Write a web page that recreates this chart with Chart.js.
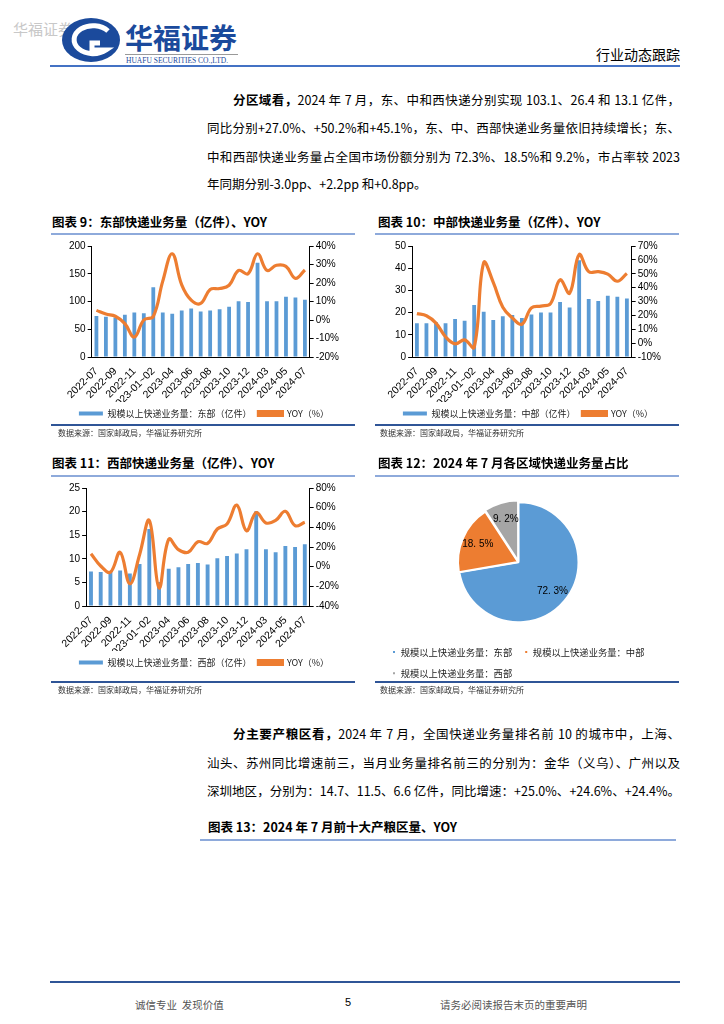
<!DOCTYPE html>
<html>
<head>
<meta charset="utf-8">
<script src="https://cdn.jsdelivr.net/npm/chart.js@4.4.1/dist/chart.umd.min.js"></script>
<style>
  body { margin: 0; width: 724px; height: 1024px; position: relative; background: #fff; font-family: "Noto Sans CJK SC", sans-serif; color: #000; overflow: hidden; }
  .abs { position: absolute; }
  .txt { position: absolute; left: 207px; width: 473px; font-size: 12.5px; line-height: 16px; height: 16px; text-align: justify; text-align-last: justify; }
  .txt.last { text-align-last: left; }
  .ttl { position: absolute; font-size: 12.5px; font-weight: bold; line-height: 16px; }
  .uline { position: absolute; height: 2px; background: #8eaadb; }
  .bline { position: absolute; height: 1.5px; background: #2f5597; }
  .src { position: absolute; font-size: 8px; color: #333; line-height: 10px; }
  .box { position: absolute; }
</style>
</head>
<body>

<div class="abs" style="left:13px;top:18px;font-size:15px;color:#c8c8c8;">华福证券</div>
<svg class="abs" style="left:55px;top:12px" width="200" height="56">
  <ellipse cx="36" cy="28" rx="29" ry="22" fill="#1b4a9c"/>
  <path d="M53 19 A19 14 0 1 0 51 38 L37 38 L37 31 L45 31" fill="none" stroke="#fff" stroke-width="5"/>
  <text x="70" y="37" font-size="28" font-weight="bold" fill="#1b4a9c" font-family="Noto Sans CJK SC">华福证券</text>
  <rect x="70" y="42" width="113" height="1" fill="#999"/>
  <text x="71" y="51" font-size="7.5" fill="#1b4a9c" font-family="Liberation Serif">HUAFU SECURITIES CO.,LTD.</text>
</svg>
<div class="abs" style="right:44px;top:44px;font-size:14px;">行业动态跟踪</div>
<div class="abs" style="left:50px;top:65px;width:630px;height:2px;background:#4472c4;"></div>

<div class="txt" style="top:92px;left:233px;width:447px;"><b>分区域看，</b>2024 年 7 月，东、中和西快递分别实现 103.1、26.4 和 13.1 亿件，</div>
<div class="txt" style="top:120px;">同比分别+27.0%、+50.2%和+45.1%，东、中、西部快递业务量依旧持续增长；东、</div>
<div class="txt" style="top:149px;">中和西部快递业务量占全国市场份额分别为 72.3%、18.5%和 9.2%，市占率较 2023</div>
<div class="txt last" style="top:176px;">年同期分别-3.0pp、+2.2pp 和+0.8pp。</div>

<div class="ttl" style="left:52px;top:214px;">图表 9：东部快递业务量（亿件）、YOY</div>
<div class="ttl" style="left:378px;top:214px;">图表 10：中部快递业务量（亿件）、YOY</div>
<div class="uline" style="left:51px;top:233px;width:304px;"></div>
<div class="uline" style="left:375px;top:233px;width:304px;"></div>
<div class="box" style="left:51px;top:238px;width:304px;height:190px;"><canvas id="c1"></canvas></div>
<div class="box" style="left:375px;top:238px;width:304px;height:190px;"><canvas id="c2"></canvas></div>
<div class="bline" style="left:51px;top:424px;width:304px;"></div>
<div class="bline" style="left:375px;top:424px;width:304px;"></div>
<div class="src" style="left:58px;top:428px;">数据来源：国家邮政局，华福证券研究所</div>
<div class="src" style="left:380px;top:428px;">数据来源：国家邮政局，华福证券研究所</div>

<div class="ttl" style="left:52px;top:455px;">图表 11：西部快递业务量（亿件）、YOY</div>
<div class="ttl" style="left:378px;top:455px;">图表 12：2024 年 7 月各区域快递业务量占比</div>
<div class="uline" style="left:51px;top:475px;width:304px;"></div>
<div class="uline" style="left:375px;top:475px;width:304px;"></div>
<div class="box" style="left:51px;top:480px;width:304px;height:197px;"><canvas id="c3"></canvas></div>
<div class="box" style="left:375px;top:480px;width:304px;height:208px;"><canvas id="c4"></canvas></div>
<div class="bline" style="left:51px;top:681px;width:304px;"></div>
<div class="bline" style="left:375px;top:681px;width:304px;"></div>
<div class="src" style="left:58px;top:685px;">数据来源：国家邮政局，华福证券研究所</div>
<div class="src" style="left:380px;top:685px;">数据来源：国家邮政局，华福证券研究所</div>

<div class="txt" style="top:726px;left:233px;width:447px;"><b>分主要产粮区看，</b>2024 年 7 月，全国快递业务量排名前 10 的城市中，上海、</div>
<div class="txt" style="top:755px;">汕头、苏州同比增速前三，当月业务量排名前三的分别为：金华（义乌）、广州以及</div>
<div class="txt" style="top:783px;">深圳地区，分别为：14.7、11.5、6.6 亿件，同比增速：+25.0%、+24.6%、+24.4%。</div>
<div class="ttl" style="left:208px;top:819px;">图表 13：2024 年 7 月前十大产粮区量、YOY</div>
<div class="uline" style="left:200px;top:839px;width:476px;"></div>

<div class="abs" style="left:50px;top:981px;width:630px;height:2px;background:#2f5597;"></div>
<div class="abs" style="left:135px;top:997px;font-size:10.5px;color:#555;">诚信专业&nbsp;&nbsp;发现价值</div>
<div class="abs" style="left:345px;top:996px;font-size:11px;font-family:'Liberation Sans';">5</div>
<div class="abs" style="left:440px;top:997px;font-size:10.5px;color:#555;">请务必阅读报告末页的重要声明</div>

<script>
const months = ['2022-07', '2022-08', '2022-09', '2022-10', '2022-11', '2022-12', '2023-01~02', '2023-03', '2023-04', '2023-05', '2023-06', '2023-07', '2023-08', '2023-09', '2023-10', '2023-11', '2023-12', '2024-01~02', '2024-03', '2024-04', '2024-05', '2024-06', '2024-07'];

// 东部 (亿件, YOY %)
const eastVol = [74, 72.5, 71, 76, 80, 79, 125.5, 80, 78, 84, 87.5, 82, 84, 86, 90.5, 100.5, 99, 170, 100.5, 100.5, 108.5, 107, 103.1];
const eastYoy = [5.2, 3.2, 2, -2, -9.2, 0, 1.9, 21, 35.8, 19, 10.7, 9, 16.5, 17, 18.8, 26.8, 25, 35.8, 26.8, 29.6, 29, 22.5, 27.0];

// 中部
const midVol = [15.2, 15.2, 15.7, 15.2, 17.1, 16.3, 23.4, 20.4, 16.7, 18.4, 18.9, 17.6, 19.1, 20, 20, 24.8, 22.3, 43.6, 26.1, 25.2, 27.6, 27.1, 26.4];
const midYoy = [21.3, 19.7, 14.4, 4.6, -0.5, 2.3, -3, 58, 43.8, 25.9, 18.2, 13.6, 25.4, 26.7, 28.5, 45.6, 36, 63.8, 51.5, 51.5, 49.7, 44.6, 50.2];

// 西部
const westVol = [7.3, 7.2, 7.2, 7.5, 6.9, 8.9, 16.3, 5.1, 7.9, 8.2, 8.9, 9.1, 8.8, 10.1, 10.6, 11.1, 12.0, 20.1, 12.0, 11.4, 12.7, 12.5, 13.1];
const westYoy = [13.2, 0.7, -5.6, 14.6, -17.4, 12.2, 47, -21.6, 27.8, 17.4, 14.6, 25.4, 23.7, 38.3, 43.5, 62.6, 36.5, 55, 44.5, 47, 56.3, 41.7, 45.1];

// 2024-07 各区域占比
const regions = ['规模以上快递业务量：东部', '规模以上快递业务量：中部', '规模以上快递业务量：西部'];
const shares = [72.3, 18.5, 9.2];

const BLUE = '#5b9bd5';
const ORANGE = '#ed7d31';
const GRAY = '#a5a5a5';
const tickFont = { family: 'Liberation Sans', size: 10 };
const xFont = { family: 'Liberation Sans', size: 10.5 };
const cnFont = { family: 'Noto Sans CJK SC', size: 9 };

Chart.defaults.color = '#000';
Chart.defaults.animation = false;

function combo(id, vol, yoy, volName, yAxis, y1Axis, pad) {
  new Chart(document.getElementById(id), {
    data: {
      labels: months,
      datasets: [
        {
          type: 'line',
          label: 'YOY（%）',
          data: yoy,
          yAxisID: 'y1',
          borderColor: ORANGE,
          backgroundColor: ORANGE,
          borderWidth: 3.2,
          pointRadius: 0,
          tension: 0.4,
          order: 0,
        },
        {
          type: 'bar',
          label: volName,
          data: vol,
          yAxisID: 'y',
          backgroundColor: BLUE,
          barPercentage: 0.4,
          categoryPercentage: 1,
          order: 1,
        },
      ],
    },
    options: {
      responsive: true,
      maintainAspectRatio: false,
      layout: { padding: pad },
      plugins: {
        legend: {
          position: 'bottom',
          reverse: true,
          labels: { boxWidth: 24, boxHeight: 4, font: cnFont, color: '#222', padding: 7 },
        },
        tooltip: { enabled: false },
      },
      scales: {
        x: {
          grid: { display: false },
          border: { color: '#000' },
          afterFit: function (scale) {
            scale.height = 45;
          },
          ticks: {
            font: xFont,
            autoSkip: false,
            maxRotation: 45,
            minRotation: 45,
            padding: 0,
            callback: function (v, i) {
              return i % 2 === 0 ? months[i] : '';
            },
          },
        },
        y: {
          position: 'left',
          min: yAxis[0],
          max: yAxis[1],
          grid: { drawOnChartArea: false, tickLength: 4, color: '#000' },
          border: { color: '#000' },
          ticks: { stepSize: yAxis[2], autoSkip: false, font: tickFont, padding: 2 },
        },
        y1: {
          position: 'right',
          min: y1Axis[0],
          max: y1Axis[1],
          grid: { drawOnChartArea: false, tickLength: 4, color: '#000' },
          border: { color: '#000' },
          ticks: {
            stepSize: y1Axis[2],
            autoSkip: false,
            font: tickFont,
            padding: 2,
            callback: function (v) {
              return v + '%';
            },
          },
        },
      },
    },
  });
}

combo('c1', eastVol, eastYoy, '规模以上快递业务量：东部（亿件）', [0, 200, 50], [-20, 40, 10], { left: 16, right: 14, top: 5, bottom: 0 });
combo('c2', midVol, midYoy, '规模以上快递业务量：中部（亿件）', [0, 50, 10], [-10, 70, 10], { left: 18, right: 16, top: 5, bottom: 0 });
combo('c3', westVol, westYoy, '规模以上快递业务量：西部（亿件）', [0, 25, 5], [-40, 80, 20], { left: 16, right: 14, top: 5, bottom: 0 });

// labels inside pie slices
const sliceLabels = {
  id: 'sliceLabels',
  afterDatasetsDraw(chart) {
    const ctx = chart.ctx;
    const meta = chart.getDatasetMeta(0);
    ctx.save();
    ctx.font = '10px "Liberation Sans"';
    ctx.fillStyle = '#000';
    ctx.textAlign = 'center';
    ctx.textBaseline = 'middle';
    meta.data.forEach(function (arc, i) {
      const p = arc.getProps(['x', 'y', 'startAngle', 'endAngle', 'outerRadius'], true);
      const a = (p.startAngle + p.endAngle) / 2;
      const r = p.outerRadius * 0.74;
      ctx.fillText(shares[i].toFixed(1).replace('.', '. ') + '%', p.x + Math.cos(a) * r, p.y + Math.sin(a) * r);
    });
    ctx.restore();
  },
};

new Chart(document.getElementById('c4'), {
  type: 'pie',
  data: {
    labels: regions,
    datasets: [
      {
        data: shares,
        backgroundColor: [BLUE, ORANGE, GRAY],
        borderColor: '#fff',
        borderWidth: 2,
        offset: [0, 2, 5],
        radius: 60,
      },
    ],
  },
  options: {
    responsive: true,
    maintainAspectRatio: false,
    layout: { padding: { left: 5, right: 22, top: 9, bottom: 0 } },
    plugins: {
      legend: {
        position: 'bottom',
        align: 'start',
        labels: { usePointStyle: true, pointStyle: 'rect', boxWidth: 4, boxHeight: 4, font: { family: 'Noto Sans CJK SC', size: 9.3 }, color: '#222', padding: 12 },
      },
      tooltip: { enabled: false },
    },
  },
  plugins: [sliceLabels],
});
</script>
</body>
</html>
